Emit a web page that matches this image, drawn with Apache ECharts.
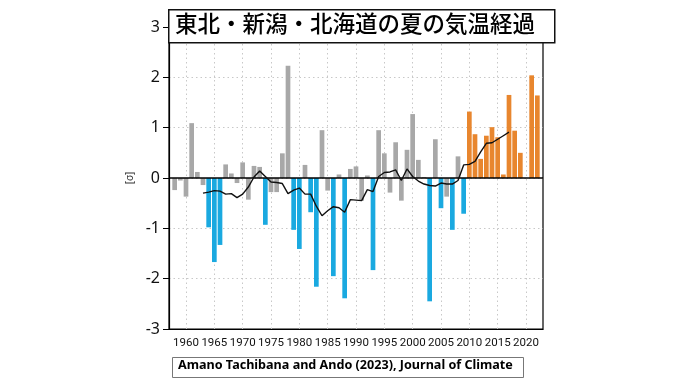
<!DOCTYPE html>
<html><head><meta charset="utf-8">
<script src="https://cdn.jsdelivr.net/npm/echarts@6/dist/echarts.min.js"></script>
<style>html,body{margin:0;padding:0;background:#fff}#c{width:680px;height:382px}</style>
</head><body><div id="c"></div>
<script>
var firstYear = 1958;
// anomalies 1958..2022 (sigma)
var anomalies = [
 -0.24,-0.05,-0.37,1.09,0.12,-0.14,-0.98,-1.67,-1.33,0.27,
 0.09,-0.10,0.31,-0.43,0.24,0.22,-0.93,-0.28,-0.28,0.49,
 2.23,-1.03,-1.41,0.26,-0.68,-2.16,0.95,-0.25,-1.95,0.07,
 -2.39,0.18,0.23,-0.45,0.05,-1.83,0.95,0.49,-0.29,0.71,
 -0.45,0.56,1.27,0.36,0.02,-2.45,0.77,-0.60,-0.37,-1.03,
 0.43,-0.71,1.32,0.87,0.38,0.84,1.01,0.81,0.07,1.65,
 0.94,0.50,0.00,2.04,1.64
];
// 11-year running mean 1963..2017
var meanFirstYear = 1963;
var runningMean = [
 -0.30,-0.28,-0.25,-0.26,-0.32,-0.31,-0.39,-0.32,-0.18,0.02,
 0.14,0.03,-0.08,-0.09,-0.11,-0.31,-0.24,-0.20,-0.32,-0.32,
 -0.56,-0.75,-0.65,-0.57,-0.59,-0.68,-0.43,-0.44,-0.45,-0.23,
 -0.27,0.03,0.11,0.12,0.16,-0.05,0.18,0.03,-0.06,-0.12,
 -0.15,-0.16,-0.10,-0.12,-0.12,-0.05,0.26,0.27,0.33,0.52,
 0.69,0.70,0.77,0.84,0.91
];
var xTickYears = [1960,1965,1970,1975,1980,1985,1990,1995,2000,2005,2010,2015,2020];
var yTicks = [3,2,1,0,-1,-2,-3];

var barData = anomalies.map(function (v, i) {
  var yr = firstYear + i;
  var col = yr >= 2010 ? '#E8862E' : (v <= -0.55 ? '#1AA9E0' : '#A8A8A8');
  return {value: [yr, v], itemStyle: {color: col}};
});
var lineData = runningMean.map(function (v, i) { return [meanFirstYear + i, v]; });

var chart = echarts.init(document.getElementById('c'), null, {renderer: 'canvas'});
chart.setOption({
  animation: false,
  grid: {left: 169, right: 137, top: 27, bottom: 53, show: true, borderColor: '#000', borderWidth: 1.2},
  xAxis: {
    type: 'value', min: 1957, max: 2023,
    axisLine: {onZero: false, lineStyle: {color: '#000', width: 1.2}},
    axisTick: {show: false},
    axisLabel: {customValues: xTickYears, hideOverlap: false, color: '#111', fontSize: 11.5,
      fontFamily: 'Roboto', margin: 8,
      formatter: function (v) { return String(v); }},
    splitLine: {show: false}
  },
  yAxis: {
    type: 'value', min: -3, max: 3, interval: 1,
    name: '[σ]', nameLocation: 'middle', nameGap: 24, nameRotate: 90,
    nameTextStyle: {fontSize: 10, color: '#333', fontFamily: 'Noto Sans'},
    axisLine: {show: true, lineStyle: {color: '#000', width: 1.2}},
    axisTick: {show: true, length: 6, lineStyle: {color: '#000'}},
    axisLabel: {customValues: yTicks, color: '#111', fontSize: 16, fontFamily: 'Noto Sans', margin: 9,
      formatter: function (v) { return String(v); }},
    splitLine: {show: true, lineStyle: {color: '#c8c8c8', type: [1.5, 3], width: 1}}
  },
  series: [
    {type: 'bar', data: barData, barWidth: 4.7, z: 2,
     markLine: {silent: true, symbol: 'none', label: {show: false}, z: 1,
       lineStyle: {color: '#c8c8c8', type: [1.5, 3], width: 1},
       data: xTickYears.map(function (t) { return {xAxis: t}; })}},
    {type: 'line', data: lineData, showSymbol: false, symbol: 'none', z: 5,
     lineStyle: {color: '#111', width: 1.4},
     markLine: {silent: true, symbol: 'none', label: {show: false},
       lineStyle: {color: '#000', type: 'solid', width: 1.5}, data: [{yAxis: 0}]}}
  ],
  graphic: [
    {type: 'rect', left: 168, top: 9, shape: {width: 386, height: 33},
     style: {fill: '#fff', stroke: '#111', lineWidth: 1.5}, z: 100},
    {type: 'text', left: 175, top: 12, z: 101,
     style: {text: '東北・新潟・北海道の夏の気温経過', fill: '#000',
       font: '500 22.5px "Noto Sans CJK JP"'}},
    {type: 'rect', left: 172, top: 357, shape: {width: 351, height: 20},
     style: {fill: '#fff', stroke: '#777', lineWidth: 1}, z: 100},
    {type: 'text', left: 178, top: 359, z: 101,
     style: {text: 'Amano Tachibana and Ando (2023), Journal of Climate', fill: '#000',
       font: 'bold 12.6px "Noto Sans"'}}
  ]
});
</script></body></html>
